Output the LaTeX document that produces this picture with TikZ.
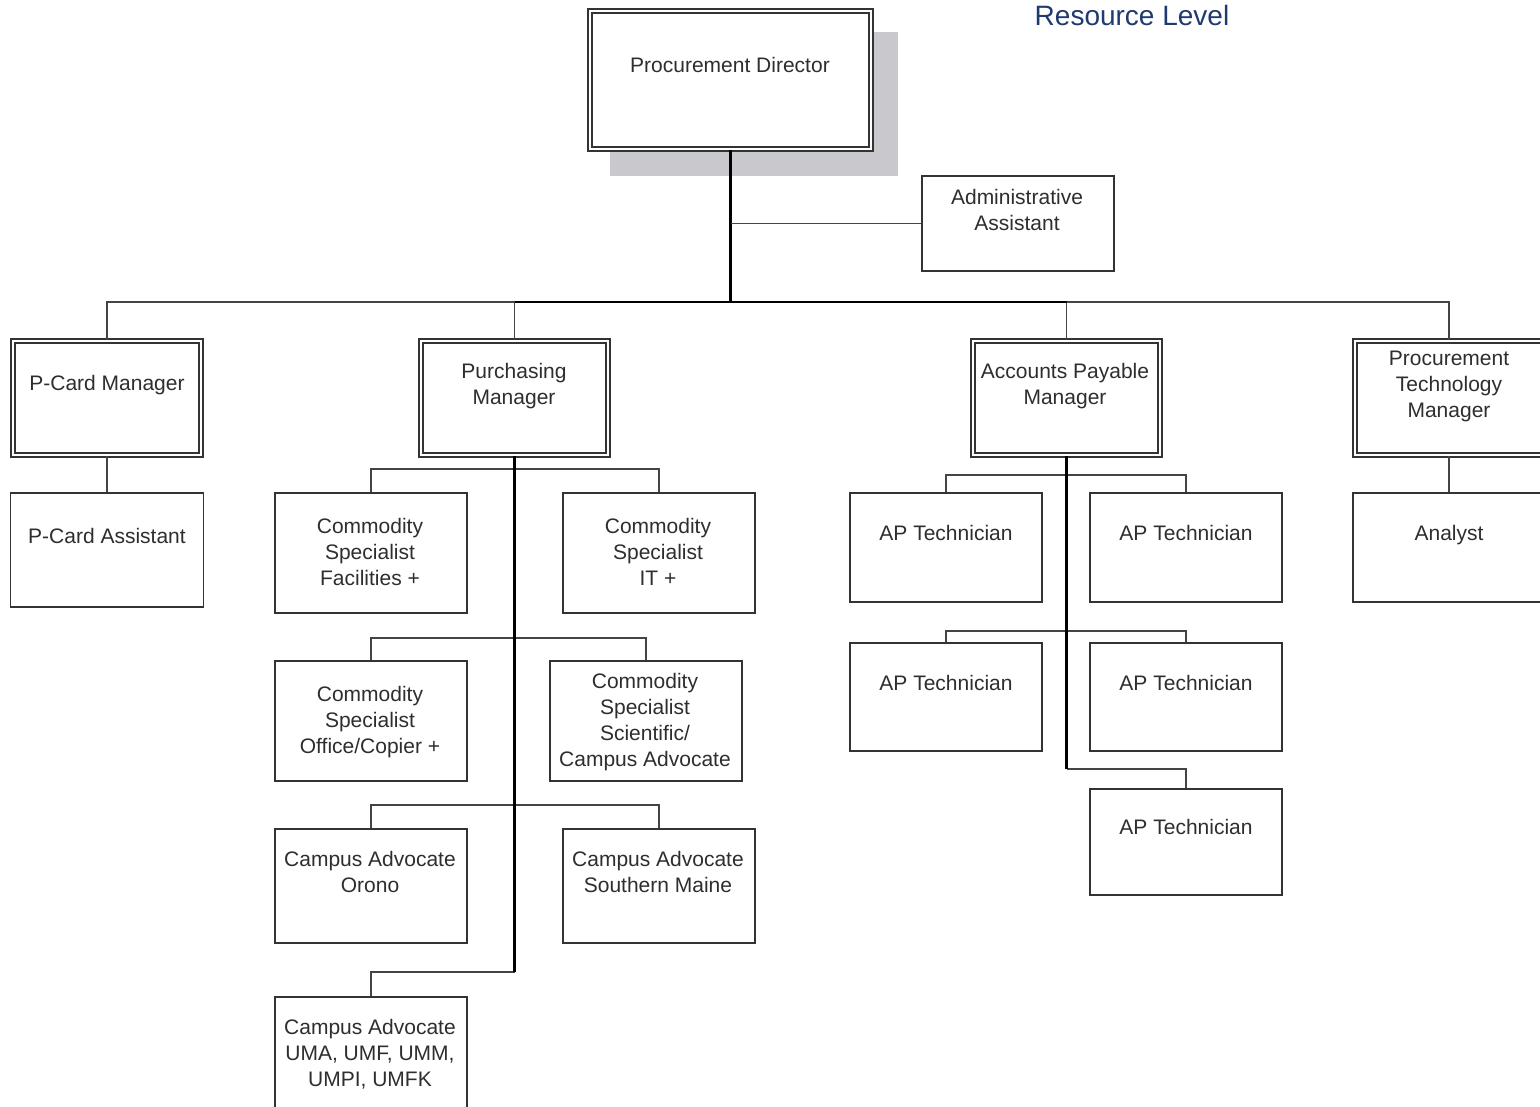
\documentclass[tikz,border=0pt]{standalone}
\usepackage{fontspec}
\setmainfont{Liberation Sans}
\definecolor{boxline}{HTML}{333333}
\definecolor{connline}{HTML}{444444}
\definecolor{labeltext}{HTML}{2E2E2E}
\definecolor{shadowgray}{HTML}{C9C9CD}
\definecolor{titleblue}{HTML}{1F3A6E}
\begin{document}
\begin{tikzpicture}[x=1pt,y=-1pt,
  box/.style={draw=boxline, line width=1.8pt, fill=white, inner sep=0pt, rectangle},
  dbox/.style={draw=boxline, line width=1.6pt, double=white, double distance=2.4pt,
               fill=white, inner sep=0pt, rectangle},
  lbl/.style={anchor=north, inner sep=0pt, align=center, text=labeltext,
              font=\fontsize{21}{26}\selectfont},
  conn/.style={draw=connline, line width=1.8pt},
  spine/.style={draw=black, line width=2.4pt}
]
\useasboundingbox (0,0) rectangle (1540,1107);

% heading
\node[text=titleblue, font=\fontsize{28}{32}\selectfont, anchor=base] (title) at (1132,26) {Resource Level};

% director with drop shadow
\fill[shadowgray] (610,32) rectangle (898,176);
\node[dbox, minimum width=281.4pt, minimum height=138.4pt] (pd) at (730.5,80) {};
\node[lbl] (pdT) at (730,57.5) {Procurement Director};

\node[box, minimum width=192pt, minimum height=95pt] (adm) at (1018,223.5) {};
\node[lbl] (admT) at (1017,189.5) {Administrative\\Assistant};

% managers
\node[dbox, minimum width=188.4pt, minimum height=114.4pt] (pcm) at (107,398) {};
\node[lbl] (pcmT) at (107,375.5) {P-Card Manager};
\node[dbox, minimum width=187.4pt, minimum height=114.4pt] (pm) at (514.5,398) {};
\node[lbl] (pmT) at (514,363.5) {Purchasing\\Manager};
\node[dbox, minimum width=187.4pt, minimum height=114.4pt] (apm) at (1066.5,398) {};
\node[lbl] (apmT) at (1065,363.5) {Accounts Payable\\Manager};
\node[dbox, minimum width=188.4pt, minimum height=114.4pt] (ptm) at (1449,398) {};
\node[lbl] (ptmT) at (1449,350.5) {Procurement\\Technology\\Manager};

% staff
\node[box, minimum width=193pt, minimum height=114pt] (pca) at (107,550) {};
\node[lbl] (pcaT) at (107,528.5) {P-Card Assistant};

\node[box, minimum width=192pt, minimum height=120pt] (csf) at (371,553) {};
\node[lbl] (csfT) at (370,518.5) {Commodity\\Specialist\\Facilities +};
\node[box, minimum width=192pt, minimum height=120pt] (csit) at (659,553) {};
\node[lbl] (csitT) at (658,518.5) {Commodity\\Specialist\\IT +};
\node[box, minimum width=192pt, minimum height=120pt] (cso) at (371,721) {};
\node[lbl] (csoT) at (370,686.5) {Commodity\\Specialist\\Office/Copier +};
\node[box, minimum width=192pt, minimum height=120pt] (css) at (646,721) {};
\node[lbl] (cssT) at (645,673.5) {Commodity\\Specialist\\Scientific/\\Campus Advocate};
\node[box, minimum width=192pt, minimum height=114pt] (cao) at (371,886) {};
\node[lbl] (caoT) at (370,851.5) {Campus Advocate\\Orono};
\node[box, minimum width=192pt, minimum height=114pt] (casm) at (659,886) {};
\node[lbl] (casmT) at (658,851.5) {Campus Advocate\\Southern Maine};
\node[box, minimum width=192pt, minimum height=120pt] (cau) at (371,1057) {};
\node[lbl] (cauT) at (370,1019.5) {Campus Advocate\\UMA, UMF, UMM,\\UMPI, UMFK};

\node[box, minimum width=192pt, minimum height=109pt] (ap1) at (946,547.5) {};
\node[lbl] (ap1T) at (946,525.5) {AP Technician};
\node[box, minimum width=192pt, minimum height=109pt] (ap2) at (1186,547.5) {};
\node[lbl] (ap2T) at (1186,525.5) {AP Technician};
\node[box, minimum width=192pt, minimum height=108pt] (ap3) at (946,697) {};
\node[lbl] (ap3T) at (946,675.5) {AP Technician};
\node[box, minimum width=192pt, minimum height=108pt] (ap4) at (1186,697) {};
\node[lbl] (ap4T) at (1186,675.5) {AP Technician};
\node[box, minimum width=192pt, minimum height=106pt] (ap5) at (1186,842) {};
\node[lbl] (ap5T) at (1186,819.5) {AP Technician};

\node[box, minimum width=192pt, minimum height=109pt] (an) at (1449,547.5) {};
\node[lbl] (anT) at (1449,525.5) {Analyst};

% junction levels
\coordinate (bus) at (730.5,302);
\coordinate (pmEnd) at (0,972);
\coordinate (apEnd) at (0,769);

% director to managers
\draw[conn] (pcm.north) |- (bus) -| (ptm.north);
\draw[conn] (pm.north) -- (pm.north |- bus);
\draw[conn] (apm.north) -- (apm.north |- bus);
\draw[spine] (pm.north |- bus) -- (apm.north |- bus);
\draw[spine] (pd.south) -- (bus);
\draw[conn] (pd.south |- adm.west) -- (adm.west);

% single reports
\draw[conn] (pcm.south) -- (pca.north);
\draw[conn] (ptm.south) -- (an.north);

% purchasing branch
\draw[conn] (csf.north) -- ++(0,-23) -| (csit.north);
\draw[conn] (cso.north) -- ++(0,-22) -| (css.north);
\draw[conn] (cao.north) -- ++(0,-23) -| (casm.north);
\draw[conn] (pm.south |- pmEnd) -| (cau.north);
\draw[spine] (pm.south) -- (pm.south |- pmEnd);

% accounts payable branch
\draw[conn] (ap1.north) -- ++(0,-17) -| (ap2.north);
\draw[conn] (ap3.north) -- ++(0,-11) -| (ap4.north);
\draw[conn] (apm.south |- apEnd) -| (ap5.north);
\draw[spine] (apm.south) -- (apm.south |- apEnd);
\end{tikzpicture}
\end{document}
